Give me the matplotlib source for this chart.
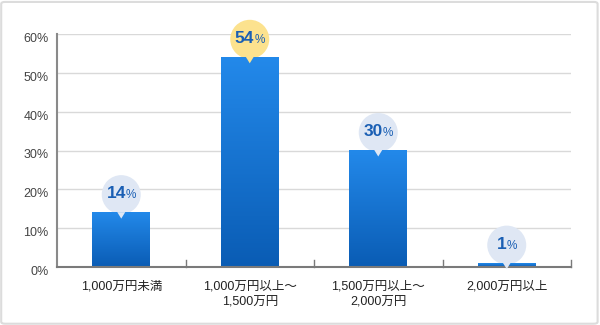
import numpy as np
import matplotlib
matplotlib.use("Agg")
import matplotlib.pyplot as plt
from matplotlib.patches import Circle, Polygon, FancyBboxPatch
from matplotlib.transforms import Affine2D, ScaledTranslation
from matplotlib.offsetbox import TextArea, HPacker, AnnotationBbox

plt.rcParams['font.family'] = ['Liberation Sans', 'Noto Sans CJK JP', 'DejaVu Sans']

categories = ["1,000万円未満", "1,000万円以上～\n1,500万円",
              "1,500万円以上～\n2,000万円", "2,000万円以上"]
values = [14, 54, 30, 1]
highlight = [False, True, False, False]
yticks = [0, 10, 20, 30, 40, 50, 60]

fig = plt.figure(figsize=(6, 3.25), dpi=100)
ax = fig.add_axes([57 / 600, 58 / 325, 514 / 600, 233 / 325])

x = np.arange(len(values))
w = 0.45

# grid
for t in yticks[1:]:
    ax.axhline(t, color="#d9d9d9", lw=1, zorder=0)

grad = np.linspace(0, 1, 256).reshape(-1, 1)
cmap = matplotlib.colors.LinearSegmentedColormap.from_list("b", ["#0a5cb4", "#2389ea"])

for xi, v, hl in zip(x, values, highlight):
    anchor = Affine2D() + ScaledTranslation(xi, v, ax.transData)
    bub = "#fce28e" if hl else "#dfe7f4"
    ax.add_patch(Circle((0, 18), 19.5, transform=anchor, fc=bub, ec="none",
                        zorder=1, clip_on=False))
    ax.imshow(grad, extent=(xi - w / 2, xi + w / 2, 0, v), origin="lower",
              cmap=cmap, aspect="auto", zorder=2, interpolation="bilinear")
    ax.add_patch(Polygon([(-4, 0.5), (4, 0.5), (0, -6)], closed=True,
                         transform=anchor, fc=bub, ec="none", zorder=3, clip_on=False))
    num = TextArea(str(v), textprops=dict(fontsize=12.5, fontweight="bold",
                                           color="#1a5fb4"))
    pct = TextArea("%", textprops=dict(fontsize=8.5, color="#1a5fb4"))
    box = HPacker(children=[num, pct], align="baseline", pad=0, sep=0)
    ab = AnnotationBbox(box, (xi, v), xybox=(0, 13.5), boxcoords="offset points",
                        frameon=False, box_alignment=(0.5, 0.5), zorder=4,
                        annotation_clip=False)
    ax.add_artist(ab)

ax.set_xlim(-0.5, len(values) - 0.5)
ax.set_ylim(0, 60)

for s in ["top", "right"]:
    ax.spines[s].set_visible(False)
ax.spines["left"].set_color("#8a8a8a")
ax.spines["left"].set_linewidth(1.5)
ax.spines["bottom"].set_color("#7a7a7a")
ax.spines["bottom"].set_linewidth(1.5)

ax.set_yticks(yticks)
ax.set_yticklabels([f"{t}%" for t in yticks], fontsize=9, color="#444444")
ax.tick_params(axis="y", length=0, pad=6)
for lab in ax.get_yticklabels():
    lab.set_transform(lab.get_transform() + ScaledTranslation(0, -3.5 / 100, fig.dpi_scale_trans))

ax.set_xticks(x)
ax.set_xticklabels(categories, fontsize=9, color="#222222", linespacing=1.45)
ax.tick_params(axis="x", length=0, pad=10)

# category separator ticks
for b in np.arange(0.5, len(values), 1.0):
    ax.plot([b, b], [0, 1.8], color="#7a7a7a", lw=1, zorder=3, clip_on=False)

fig.patches.append(FancyBboxPatch((0.002, 0.004), 0.994, 0.99,
                                  boxstyle="round,pad=0,rounding_size=0.006",
                                  transform=fig.transFigure, fill=False,
                                  ec="#dcdcdc", lw=1.5))

fig.savefig("out.png", dpi=100)
